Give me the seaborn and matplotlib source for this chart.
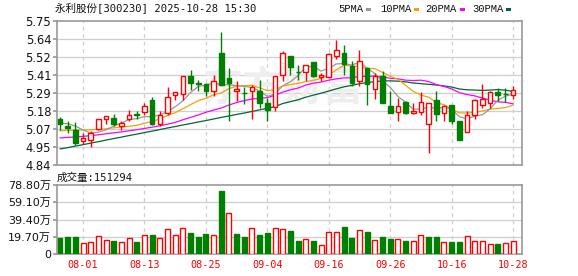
import numpy as np
import pandas as pd
import seaborn as sns
import matplotlib
matplotlib.use("Agg")
import matplotlib.pyplot as plt
from matplotlib.patches import Rectangle

# ---------------- data ----------------
opens = [5.132, 5.083, 5.063, 4.993, 4.999, 5.069, 5.132, 5.136, 5.084, 5.130,
         5.162, 5.173, 5.251, 5.099, 5.168, 5.285, 5.289, 5.401, 5.357, 5.352,
         5.310, 5.547, 5.390, 5.310, 5.297, 5.310, 5.310, 5.232, 5.204, 5.412,
         5.532, 5.431, 5.428, 5.492, 5.395, 5.395, 5.528, 5.549, 5.464, 5.369,
         5.454, 5.323, 5.401, 5.211, 5.175, 5.238, 5.166, 5.173, 5.099, 5.253,
         5.166, 5.219, 5.115, 5.046, 5.153, 5.221, 5.232, 5.301, 5.287, 5.284]
closes = [5.098, 5.075, 4.978, 5.010, 5.041, 5.130, 5.147, 5.098, 5.103, 5.158,
          5.154, 5.211, 5.099, 5.158, 5.268, 5.301, 5.401, 5.359, 5.353, 5.310,
          5.369, 5.346, 5.359, 5.321, 5.292, 5.331, 5.232, 5.190, 5.401, 5.549,
          5.458, 5.427, 5.471, 5.405, 5.410, 5.543, 5.570, 5.479, 5.359, 5.500,
          5.355, 5.401, 5.232, 5.168, 5.211, 5.168, 5.181, 5.236, 5.232, 5.162,
          5.212, 5.120, 4.999, 5.158, 5.251, 5.257, 5.299, 5.280, 5.286, 5.316]
highs = [5.145, 5.115, 5.109, 5.041, 5.056, 5.132, 5.147, 5.162, 5.115, 5.187,
         5.183, 5.230, 5.268, 5.179, 5.333, 5.301, 5.401, 5.441, 5.376, 5.359,
         5.407, 5.680, 5.454, 5.369, 5.333, 5.348, 5.376, 5.264, 5.401, 5.564,
         5.532, 5.475, 5.471, 5.492, 5.422, 5.549, 5.634, 5.602, 5.500, 5.570,
         5.454, 5.422, 5.437, 5.310, 5.264, 5.246, 5.232, 5.302, 5.232, 5.310,
         5.219, 5.219, 5.115, 5.179, 5.255, 5.352, 5.306, 5.327, 5.327, 5.337]
lows = [5.063, 5.041, 4.963, 4.972, 4.950, 5.063, 5.099, 5.084, 5.063, 5.115,
        5.130, 5.154, 5.090, 5.084, 5.154, 5.253, 5.253, 5.316, 5.310, 5.274,
        5.274, 5.346, 5.120, 5.242, 5.225, 5.132, 5.200, 5.115, 5.183, 5.374,
        5.412, 5.380, 5.369, 5.395, 5.369, 5.390, 5.513, 5.412, 5.338, 5.338,
        5.221, 5.259, 5.232, 5.168, 5.120, 5.162, 5.162, 5.153, 4.914, 5.120,
        5.120, 5.099, 4.999, 5.046, 5.128, 5.200, 5.200, 5.246, 5.238, 5.259]
# volume in units of 10k lots (万)
volumes_wan = [18.6, 19.7, 19.7, 12.9, 14.0, 20.8, 16.3, 15.2, 14.0, 18.2,
               14.0, 21.6, 22.0, 18.2, 28.4, 21.6, 29.5, 24.2, 19.7, 23.1,
               21.6, 72.0, 47.0, 23.1, 19.7, 29.5, 21.6, 24.2, 29.5, 28.4,
               26.5, 15.2, 17.0, 15.2, 10.2, 25.4, 25.4, 31.1, 18.6, 27.3,
               25.4, 16.3, 19.7, 17.4, 17.4, 15.2, 15.2, 22.0, 19.7, 19.7,
               14.0, 14.0, 14.0, 20.8, 15.2, 15.2, 11.7, 11.7, 12.9, 15.1294]
# moving-average values before enough history is visible
ma5_head = [5.105, 5.100, 5.085, 5.060]
ma10_head = [5.055, 5.058, 5.060, 5.060, 5.062, 5.064, 5.068, 5.074, 5.079]
ma20_head = [5.010, 5.013, 5.016, 5.020, 5.024, 5.030, 5.036, 5.042, 5.048, 5.055,
             5.062, 5.070, 5.078, 5.087, 5.097, 5.108, 5.125, 5.140, 5.155]
ma30_head = [4.940, 4.948, 4.958, 4.967, 4.977, 4.986, 4.996, 5.006, 5.015, 5.025,
             5.034, 5.044, 5.053, 5.063, 5.073, 5.082, 5.092, 5.101, 5.111, 5.120,
             5.130, 5.140, 5.149, 5.159, 5.168, 5.178, 5.188, 5.198, 5.208]
date_idx = [3, 11, 19, 27, 35, 43, 51, 59]
date_labels = ["08-01", "08-13", "08-25", "09-04", "09-16", "09-26", "10-16", "10-28"]
price_ticks = ["4.84", "4.95", "5.07", "5.18", "5.29", "5.41", "5.52", "5.64", "5.75"]
vol_ticks = ["0", "19.70万", "39.40万", "59.10万", "78.80万"]
title = "永利股份[300230] 2025-10-28 15:30"
vol_title = "成交量:151294"
ma_names = ["5PMA", "10PMA", "20PMA", "30PMA"]

# ---------------- styling ----------------
sns.set_theme(style="white")
plt.rcParams["font.family"] = ["DejaVu Sans", "Noto Sans CJK SC"]
MONO = ["DejaVu Sans Mono", "Noto Sans CJK SC"]

RED = "#ff0000"
GREEN = "#008000"
MA_COLORS = ["#999999", "#f5a300", "#ff00ff", "#006633"]
GRID = "#cfcfcf"
SPINE = "#999999"

n = len(closes)
x = np.arange(n)
cl = pd.Series(closes)
ma5 = cl.rolling(5).mean().to_numpy(); ma5[:4] = ma5_head
ma10 = cl.rolling(10).mean().to_numpy(); ma10[:9] = ma10_head
ma20 = cl.rolling(20).mean().to_numpy(); ma20[:19] = ma20_head
ma30 = cl.rolling(30).mean().to_numpy(); ma30[:29] = ma30_head

fig = plt.figure(figsize=(5.78, 2.76), dpi=100)
ax1 = fig.add_axes([0.0981, 0.4033, 0.805, 0.5196])
ax2 = fig.add_axes([0.0981, 0.0786, 0.805, 0.2511])

xlim = (-0.43, 60.16)
pmin, pmax = 4.84, 5.75
ptick_pos = np.linspace(pmin, pmax, 9)

for ax in (ax1, ax2):
    ax.set_xlim(*xlim)
    for s in ax.spines.values():
        s.set_color(SPINE)
        s.set_linewidth(1.2)
    for d in date_idx:
        ax.axvline(d, color=GRID, lw=0.9, ls=(0, (3, 3)), zorder=0)

# watermark
ax1.text(29, 5.32, "东方财富", fontsize=29, color="#eeeeee", fontweight="bold",
         ha="center", va="center", family=["Noto Sans CJK SC"], zorder=0.5)

# price grid
ax1.set_ylim(pmin, pmax)
for p in ptick_pos[1:-1]:
    ax1.axhline(p, color=GRID, lw=0.9, zorder=0)
ax1.set_yticks(ptick_pos)
ax1.set_yticklabels(price_ticks)
ax1.set_xticks([])
ax1.tick_params(axis="y", length=3, color=SPINE, labelsize=8.3, pad=1,
                left=True, direction="out", labelcolor="#111111")

# MA lines
for ma, c in zip([ma30, ma20, ma10, ma5], MA_COLORS[::-1]):
    sns.lineplot(x=x, y=ma, ax=ax1, color=c, linewidth=0.9, legend=False, zorder=2)

# candles
bw = 0.6
for i in range(n):
    o, c, h, l = opens[i], closes[i], highs[i], lows[i]
    up = c >= o
    col = RED if up else GREEN
    ax1.vlines(i, l, h, color=col, lw=1.0, zorder=3)
    bot = min(o, c)
    ht = max(abs(c - o), 0.004)
    ax1.bar(i, ht, bottom=bot, width=bw,
            facecolor="white" if up else GREEN, edgecolor=col,
            linewidth=1.0, zorder=4)

# volume
vol = np.array(volumes_wan) * 10000
vmax = 788000
ax2.set_ylim(0, vmax)
vt = np.linspace(0, vmax, 5)
for v in vt[1:-1]:
    ax2.axhline(v, color=GRID, lw=0.9, zorder=0)
ax2.set_yticks(vt)
ax2.set_yticklabels(vol_ticks)
ax2.tick_params(axis="y", length=3, color=SPINE, labelsize=8.0, pad=1,
                left=True, direction="out", labelcolor="#111111")
for i in range(n):
    up = closes[i] >= (closes[i - 1] if i > 0 else opens[i])
    ax2.bar(i, vol[i], width=0.65, facecolor="white" if up else GREEN,
            edgecolor=RED if up else GREEN, linewidth=1.0, zorder=3)
ax2.set_xticks(date_idx)
ax2.set_xticklabels(date_labels, color=RED, fontsize=7.3, family=MONO)
ax2.tick_params(axis="x", length=0, pad=4)

# titles
fig.text(0.0955, 0.968, title, fontsize=7.6, va="center", ha="left",
         family=MONO, color="#111111")
fig.text(0.0985, 0.357, vol_title, fontsize=7.6, va="center", ha="left",
         family=MONO, color="#111111")

# legend
leg_x = [338, 380, 425, 472]
mark_x = [366, 414, 460, 506]
W, H = 578, 276
for name, lx, mx, c in zip(ma_names, leg_x, mark_x, MA_COLORS):
    fig.text(lx / W, 1 - 9.5 / H, name, fontsize=7.6, va="center", ha="left",
             family=["Liberation Mono"], color="#111111")
    fig.patches.append(Rectangle((mx / W, 1 - 11 / H), 5 / W, 3 / H,
                                 transform=fig.transFigure, facecolor=c,
                                 edgecolor="none"))

fig.savefig("out.png", dpi=100)
